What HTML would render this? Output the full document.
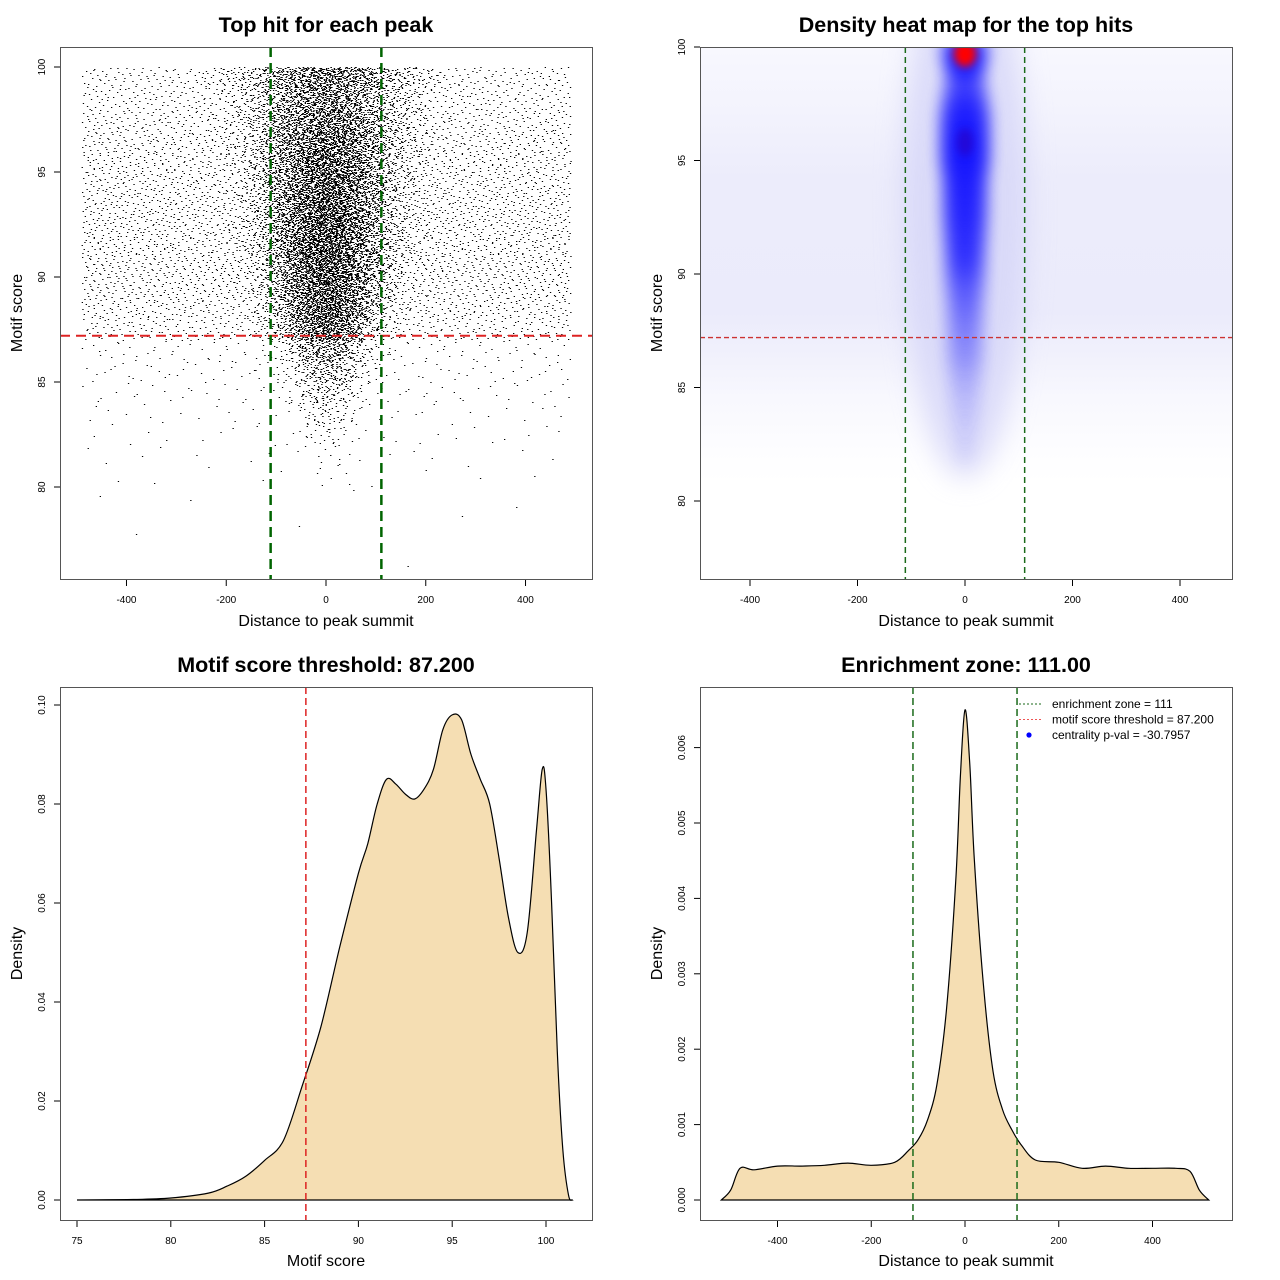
<!DOCTYPE html>
<html><head><meta charset="utf-8">
<style>
html,body{margin:0;padding:0;background:#fff;}
svg{display:block;font-family:"Liberation Sans",Arial,sans-serif;}
</style></head>
<body>
<svg id="root" width="1280" height="1280" viewBox="0 0 1280 1280" xmlns="http://www.w3.org/2000/svg">
<defs>
<filter id="blur8" x="-50%" y="-50%" width="200%" height="200%"><feGaussianBlur stdDeviation="8"/></filter>
<filter id="blur14" x="-50%" y="-50%" width="200%" height="200%"><feGaussianBlur stdDeviation="14"/></filter>
<filter id="blur4" x="-50%" y="-50%" width="200%" height="200%"><feGaussianBlur stdDeviation="4"/></filter>
<clipPath id="clip2"><rect x="700" y="47" width="532" height="532"/></clipPath>
<clipPath id="clip1"><rect x="60" y="47" width="532" height="532"/></clipPath>
<linearGradient id="heatBg" x1="0" y1="47" x2="0" y2="579" gradientUnits="userSpaceOnUse">
<stop offset="0" stop-color="#f8f8fe"/>
<stop offset="0.12" stop-color="#f3f3fd"/>
<stop offset="0.25" stop-color="#ececfb"/>
<stop offset="0.5" stop-color="#ebebfb"/>
<stop offset="0.58" stop-color="#f1f1fc"/>
<stop offset="0.66" stop-color="#f8f8fe"/>
<stop offset="0.76" stop-color="#fdfdff"/>
<stop offset="0.82" stop-color="#ffffff"/>
<stop offset="1" stop-color="#ffffff"/>
</linearGradient>
</defs>
<g id="p1"></g>
<g id="p2"></g>
<g id="p3"></g>
<g id="p4"></g>
</svg>
<script>
// ---------- Data ----------
const scatterBins     = [76, 77, 78, 79, 80, 81, 82, 83, 84, 85, 86, 87, 88, 89, 90, 91, 92, 93, 94, 95, 96, 97, 98, 99];
const scatterBgCounts = [1, 1, 2, 4, 10, 15, 25, 35, 55, 80, 100, 320, 400, 440, 470, 480, 480, 470, 450, 440, 420, 370, 320, 320];
const scatterCenterCounts = [0, 0, 0, 0, 5, 10, 30, 60, 120, 200, 350, 700, 900, 1000, 1100, 1150, 1150, 1100, 1100, 1050, 1000, 900, 800, 950];
const scatterCenterSpread = [30, 30, 30, 30, 30, 32, 34, 36, 40, 44, 48, 52, 56, 60, 62, 64, 66, 68, 70, 72, 76, 80, 84, 90];
const heatScores    = [100, 99.5, 99, 98.5, 98, 97.5, 97, 96.5, 96, 95.5, 95, 94.5, 94, 93.5, 93, 92.5, 92, 91.5, 91, 90.5, 90, 89.5, 89, 88.5, 88, 87.5, 87, 86.5, 86, 85.5, 85, 84.5, 84, 83.5, 83, 82.5, 82];
const heatIntensity = [1, 1, 0.9, 0.6, 0.65, 0.8, 0.9, 0.95, 1, 1, 1, 0.95, 0.9, 0.9, 0.85, 0.85, 0.8, 0.78, 0.75, 0.7, 0.6, 0.5, 0.45, 0.4, 0.35, 0.3, 0.28, 0.25, 0.2, 0.16, 0.12, 0.1, 0.08, 0.06, 0.05, 0.04, 0.03];
const heatWidth     = [40, 40, 35, 35, 40, 42, 45, 45, 45, 45, 45, 42, 40, 40, 40, 40, 38, 38, 36, 36, 36, 36, 34, 34, 34, 34, 34, 34, 34, 32, 30, 30, 28, 26, 24, 22, 20];
const heatPeakScore = 99.7;
const scoreX = [75, 78, 80, 82, 83, 84, 85, 86, 87, 88, 89, 90, 90.5, 91, 91.5, 92, 92.5, 93, 93.5, 94, 94.5, 95, 95.5, 96, 96.5, 97, 97.5, 98, 98.5, 99, 99.5, 99.8, 100, 100.3, 100.6, 100.9, 101.2, 101.4];
const scoreDensity = [0, 0.0001, 0.0004, 0.0014, 0.0028, 0.0048, 0.008, 0.012, 0.023, 0.035, 0.051, 0.066, 0.072, 0.080, 0.085, 0.084, 0.082, 0.081, 0.083, 0.087, 0.095, 0.098, 0.097, 0.090, 0.085, 0.080, 0.069, 0.057, 0.050, 0.054, 0.075, 0.087, 0.083, 0.060, 0.030, 0.010, 0.001, 0];
const distX = [-520, -500, -480, -450, -400, -350, -300, -250, -200, -150, -120, -100, -80, -60, -40, -20, -10, 0, 10, 20, 40, 60, 80, 100, 120, 150, 200, 250, 300, 350, 400, 450, 480, 500, 520];
const distDensity = [0, 0.00013, 0.00042, 0.0004, 0.00045, 0.00045, 0.00046, 0.00049, 0.00046, 0.0005, 0.00066, 0.0008, 0.00106, 0.00153, 0.0025, 0.0042, 0.0056, 0.0065, 0.0058, 0.0045, 0.0028, 0.0017, 0.0012, 0.00093, 0.00073, 0.00053, 0.0005, 0.00042, 0.00045, 0.00042, 0.00042, 0.00042, 0.00038, 0.00013, 0];
const threshold = 87.2;
const zone = 111;
const xTicksDist = [-400, -200, 0, 200, 400];
const yTicksScore = [80, 85, 90, 95, 100];
const xTicksScore = [75, 80, 85, 90, 95, 100];
const yTicksDens3 = [0, 0.02, 0.04, 0.06, 0.08, 0.10];
const yTicksDens3Labels = ["0.00", "0.02", "0.04", "0.06", "0.08", "0.10"];
const yTicksDens4 = [0, 0.001, 0.002, 0.003, 0.004, 0.005, 0.006];
const yTicksDens4Labels = ["0.000", "0.001", "0.002", "0.003", "0.004", "0.005", "0.006"];

// ---------- Helpers ----------
const NS = "http://www.w3.org/2000/svg";
function mk(parent, tag, attrs, text) {
  const e = document.createElementNS(NS, tag);
  for (const k in attrs) e.setAttribute(k, attrs[k]);
  if (text !== undefined) e.textContent = text;
  parent.appendChild(e);
  return e;
}
function frame(g, x0, y0, w, h, title, xlab, ylab) {
  const t = mk(g, "text", {x: x0 + w / 2, y: y0 - 15, "text-anchor": "middle", "font-size": 21.5, "font-weight": "bold"}, title);
  
  
  const xl = mk(g, "text", {x: x0 + w / 2, y: y0 + w + 47, "text-anchor": "middle", "font-size": 16}, xlab);
  
  
  const cy = y0 + h / 2;
  const yl = mk(g, "text", {x: 0, y: 0, transform: `translate(${x0 - 38},${cy}) rotate(-90)`, "text-anchor": "middle", "font-size": 16}, ylab);
  
  
}
function box(g, x0, y0, w, h) {
  const b = mk(g, "rect", {x: x0 + 0.5, y: y0 + 0.5, width: w, height: h, fill: "none", stroke: "#555", "stroke-width": 1});
  
  
}
function xAxis(g, vals, labels, sx, yb) {
  vals.forEach((v, i) => {
    const x = sx(v);
    const tk = mk(g, "line", {x1: x, x2: x, y1: yb, y2: yb + 6, stroke: "#000"});
    
    
    const tl = mk(g, "text", {x: x, y: yb + 23, "text-anchor": "middle", "font-size": 10}, labels[i]);
    
    
  });
}
function yAxis(g, vals, labels, sy, xl) {
  vals.forEach((v, i) => {
    const y = sy(v);
    const tk = mk(g, "line", {x1: xl - 6, x2: xl, y1: y, y2: y, stroke: "#000"});
    
    
    const tl = mk(g, "text", {x: 0, y: 0, transform: `translate(${xl - 15},${y}) rotate(-90)`, "text-anchor": "middle", "font-size": 10}, labels[i]);
    
    
  });
}
function vline(g, x, y1, y2, color, w, dash, name) {
  const l = mk(g, "line", {x1: x, x2: x, y1: y1, y2: y2, stroke: color, "stroke-width": w, "stroke-dasharray": dash});
  
  
}
function hline(g, y, x1, x2, color, w, dash, name) {
  const l = mk(g, "line", {x1: x1, x2: x2, y1: y, y2: y, stroke: color, "stroke-width": w, "stroke-dasharray": dash});
  
  
}
function halton(i, b) { let f = 1, r = 0; while (i > 0) { f /= b; r += f * (i % b); i = Math.floor(i / b); } return r; }
let hIdx = 1;

// ---------- Panel 1: scatter ----------
(function () {
  const g = document.getElementById("p1");
  const sx = v => 326 + v * 0.4988, sy = s => 67 + (100 - s) * 21;
  frame(g, 60, 47, 532, 532, "Top hit for each peak", "Distance to peak summit", "Motif score");
  let parts = [];
  scatterBins.forEach((b, i) => {
    for (let k = 0; k < scatterBgCounts[i]; k++) {
      hIdx++;
      const s = b + halton(hIdx, 2);
      const x = -490 + halton(hIdx, 3) * 980;
      if (s > 100) continue;
      parts.push(`M${sx(x).toFixed(1)} ${Math.round(sy(s))}h1.3v1h-1.3z`);
    }
    for (let k = 0; k < scatterCenterCounts[i]; k++) {
      hIdx++;
      const s = b + halton(hIdx, 2);
      const u1 = Math.max(1e-6, halton(hIdx, 5)), u2 = halton(hIdx, 7);
      const x = Math.sqrt(-2 * Math.log(u1)) * Math.cos(2 * Math.PI * u2) * scatterCenterSpread[i];
      if (Math.abs(x) > 490 || s > 100) continue;
      parts.push(`M${sx(x).toFixed(1)} ${Math.round(sy(s))}h1.3v1h-1.3z`);
    }
  });
  const p = mk(g, "path", {d: parts.join(""), fill: "#000", "clip-path": "url(#clip1)"});
  
  
  hline(g, sy(threshold), 60, 592, "#dd2222", 2, "10 6", "threshold-line");
  vline(g, sx(-zone), 47, 579, "#006400", 2.5, "10 6", "zone-line-left");
  vline(g, sx(zone), 47, 579, "#006400", 2.5, "10 6", "zone-line-right");
  box(g, 60, 47, 532, 532);
  xAxis(g, xTicksDist, xTicksDist.map(String), sx, 580);
  yAxis(g, yTicksScore, yTicksScore.map(String), sy, 60);
})();

// ---------- Panel 2: heat map ----------
(function () {
  const g = document.getElementById("p2");
  const sx = v => 965 + v * 0.5375, sy = s => 47 + (100 - s) * 22.7;
  frame(g, 700, 47, 532, 532, "Density heat map for the top hits", "Distance to peak summit", "Motif score");
  const hg = mk(g, "g", {"clip-path": "url(#clip2)"});
  
  
  const bg = mk(hg, "rect", {x: 700, y: 47, width: 532, height: 532, fill: "url(#heatBg)"});
  
  
  const halo = mk(hg, "ellipse", {cx: sx(0), cy: sy(93), rx: sx(115) - sx(0), ry: sy(81) - sy(93), fill: "#d4d4f8", filter: "url(#blur14)", opacity: 0.8});
  
  
  heatScores.forEach((s, i) => {
    const e = mk(hg, "ellipse", {cx: sx(0), cy: sy(s), rx: sx(heatWidth[i]) - sx(0), ry: 14, fill: "#0000ff", opacity: heatIntensity[i] * 0.7, filter: "url(#blur8)"});
    
    
  });
  const pk = mk(hg, "ellipse", {cx: sx(0), cy: sy(heatPeakScore), rx: 11, ry: 13, fill: "#ff0000", filter: "url(#blur4)"});
  
  
  const pk2 = mk(hg, "ellipse", {cx: sx(0), cy: sy(95.8), rx: 8, ry: 14, fill: "#2a00c0", opacity: 0.6, filter: "url(#blur4)"});
  
  
  hline(g, sy(threshold), 700, 1232, "#cc3333", 1.3, "5 3", "threshold-line");
  vline(g, sx(-zone), 47, 579, "#1a6a1a", 1.5, "6 4", "zone-line-left");
  vline(g, sx(zone), 47, 579, "#1a6a1a", 1.5, "6 4", "zone-line-right");
  box(g, 700, 47, 532, 532);
  xAxis(g, xTicksDist, xTicksDist.map(String), sx, 580);
  yAxis(g, yTicksScore, yTicksScore.map(String), sy, 700);
})();

function areaPath(xs, ys, sx, sy) {
  let d = `M${sx(xs[0])} ${sy(0)}`;
  const pts = xs.map((x, i) => [sx(x), sy(ys[i])]);
  d += `L${pts[0][0]} ${pts[0][1]}`;
  for (let i = 0; i < pts.length - 1; i++) {
    const p0 = pts[Math.max(0, i - 1)], p1 = pts[i], p2 = pts[i + 1], p3 = pts[Math.min(pts.length - 1, i + 2)];
    const c1 = [p1[0] + (p2[0] - p0[0]) / 6, p1[1] + (p2[1] - p0[1]) / 6];
    const c2 = [p2[0] - (p3[0] - p1[0]) / 6, p2[1] - (p3[1] - p1[1]) / 6];
    d += `C${c1[0].toFixed(1)} ${c1[1].toFixed(1)} ${c2[0].toFixed(1)} ${c2[1].toFixed(1)} ${p2[0].toFixed(1)} ${p2[1].toFixed(1)}`;
  }
  d += `L${sx(xs[xs.length - 1])} ${sy(0)}Z`;
  return d;
}

// ---------- Panel 3 ----------
(function () {
  const g = document.getElementById("p3");
  const sx = s => 77 + (s - 75) * 18.76, sy = d => 1200 - d * 4950;
  frame(g, 60, 687, 532, 533, "Motif score threshold: 87.200", "Motif score", "Density");
  const a = mk(g, "path", {d: areaPath(scoreX, scoreDensity, sx, sy), fill: "#f5deb3", stroke: "#000", "stroke-width": 1.2});
  
  
  vline(g, sx(threshold), 687, 1220, "#dd2222", 1.5, "7 4", "threshold-line");
  box(g, 60, 687, 532, 533);
  xAxis(g, xTicksScore, xTicksScore.map(String), sx, 1221);
  yAxis(g, yTicksDens3, yTicksDens3Labels, sy, 60);
})();

// ---------- Panel 4 ----------
(function () {
  const g = document.getElementById("p4");
  const sx = v => 965 + v * 0.46875, sy = d => 1200 - d * 75400;
  frame(g, 700, 687, 532, 533, "Enrichment zone: 111.00", "Distance to peak summit", "Density");
  const a = mk(g, "path", {d: areaPath(distX, distDensity, sx, sy), fill: "#f5deb3", stroke: "#000", "stroke-width": 1.2});
  
  
  vline(g, sx(-zone), 687, 1220, "#1a6a1a", 1.5, "7 4", "zone-line-left");
  vline(g, sx(zone), 687, 1220, "#1a6a1a", 1.5, "7 4", "zone-line-right");
  box(g, 700, 687, 532, 533);
  xAxis(g, xTicksDist, xTicksDist.map(String), sx, 1221);
  yAxis(g, yTicksDens4, yTicksDens4Labels, sy, 700);
  const lg = mk(g, "g", {});
  
  
  const items = [["enrichment zone = 111", "#1a6a1a", "line"], ["motif score threshold = 87.200", "#ee5555", "line"], ["centrality p-val = -30.7957", "#0000ff", "dot"]];
  items.forEach((it, i) => {
    const y = 704 + i * 15.5;
    if (it[2] === "line") {
      const l = mk(lg, "line", {x1: 1019, x2: 1042, y1: y, y2: y, stroke: it[1], "stroke-width": 1, "stroke-dasharray": "2 2"});
      
      
    } else {
      const c = mk(lg, "circle", {cx: 1029, cy: y, r: 2.6, fill: it[1]});
      
      
    }
    const t = mk(lg, "text", {x: 1052, y: y + 4, "font-size": 12}, it[0]);
    
    
  });
})();
</script>
</body></html>
